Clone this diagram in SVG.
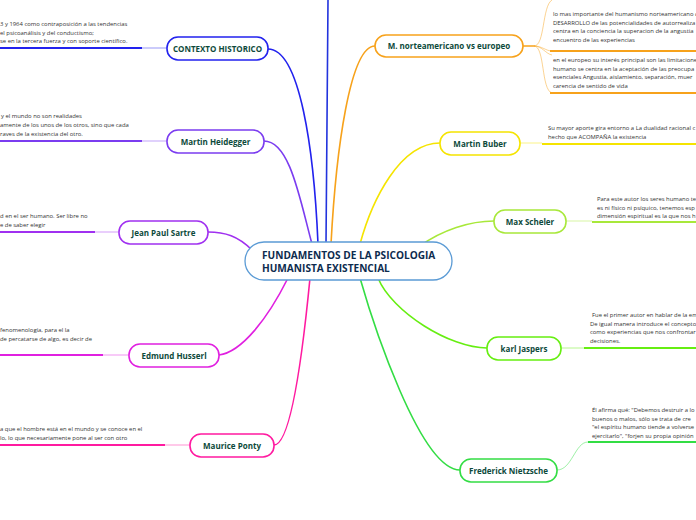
<svg xmlns="http://www.w3.org/2000/svg" width="696" height="520" viewBox="0 0 696 520">
<style>
.node{fill:#fff;stroke-width:1.6}
.nt{font-family:"Open Sans","Liberation Sans",sans-serif;font-weight:bold;font-size:8px;fill:#0d4a3b;text-anchor:middle}
.dt{font-family:"Open Sans","Liberation Sans",sans-serif;font-size:5.9px;fill:#333}
.ct{font-family:"Open Sans","Liberation Sans",sans-serif;font-weight:bold;font-size:10.1px;fill:#0d2b4e}
.c{fill:none;stroke-width:1.6;stroke-linecap:round}
.u{fill:none;stroke-width:2}
.t{fill:none;stroke-width:0.8;opacity:0.6}
</style>
<g id="connectors">
<path class="c" stroke="#2233dd" d="M 326 244 C 326 150 327 60 328 0"/>
<path class="c" stroke="#2222ee" d="M 268 49 C 300 49 314 150 318 244"/>
<path class="c" stroke="#7b3cf0" d="M 264 141 C 290 141 300 200 312 244"/>
<path class="c" stroke="#a030f0" d="M 208 232 C 225 232 238 236 252 250"/>
<path class="c" stroke="#e020e0" d="M 219 355 C 242 352 268 318 288 278"/>
<path class="c" stroke="#ff1aa0" d="M 274 445 C 292 445 304 340 310 278"/>
<path class="c" stroke="#f7a21b" d="M 375 46 C 350 46 336 150 331 244"/>
<path class="c" stroke="#f5e400" d="M 440 143 C 400 143 372 200 360 244"/>
<path class="c" stroke="#a8e83a" d="M 494 221 C 470 221 442 230 420 246"/>
<path class="c" stroke="#66ee11" d="M 487 348 C 450 348 392 312 378 278"/>
<path class="c" stroke="#33dd44" d="M 460 470 C 420 470 372 320 360 278"/>
<path class="u" stroke="#2222ee" d="M 0 48 H 142"/><path class="t" stroke="#2222ee" d="M 142 48 H 167"/>
<path class="u" stroke="#7b3cf0" d="M 0 141 H 142"/><path class="t" stroke="#7b3cf0" d="M 142 141 H 167"/>
<path class="u" stroke="#a030f0" d="M 0 232 H 95"/><path class="t" stroke="#a030f0" d="M 95 232 H 119"/>
<path class="u" stroke="#e020e0" d="M 0 355 H 103"/><path class="t" stroke="#e020e0" d="M 103 355 H 129"/>
<path class="u" stroke="#ff1aa0" d="M 0 445 H 165"/><path class="t" stroke="#ff1aa0" d="M 165 445 H 190"/>
<path class="u" stroke="#f5e400" d="M 542 144 H 696"/><path class="t" stroke="#f5e400" d="M 520 143 H 542"/>
<path class="u" stroke="#a8e83a" d="M 592 222 H 696"/><path class="t" stroke="#a8e83a" d="M 566 221 H 592"/>
<path class="u" stroke="#66ee11" d="M 584 348 H 696"/><path class="t" stroke="#66ee11" d="M 561 348 H 584"/>
<path class="u" stroke="#33dd44" d="M 588 442 H 696"/><path class="t" stroke="#33dd44" d="M 557 470 C 572 470 575 442 588 442"/>
<path class="c" stroke="#f7a21b" d="M 523 46 H 534"/>
<path class="t" stroke="#f7a21b" d="M 534 46 C 545 46 542 6 552 0 M 534 46 C 545 46 541 90 552 93 M 534 46 C 542 46 546 51 552 51 M 534 46 C 542 46 546 54 552 55"/>
<path class="u" stroke="#f7a21b" d="M 550 51 H 696"/>
<path class="u" stroke="#f7a21b" d="M 550 93 H 696"/>
</g>
<g id="center">
<rect x="245" y="242" width="207" height="38" rx="19" fill="#fff" stroke="#5b9bd5" stroke-width="1.3"/>
<text class="ct" x="262" y="259">FUNDAMENTOS DE LA PSICOLOGIA</text>
<text class="ct" x="262" y="272">HUMANISTA EXISTENCIAL</text>
</g>
<g id="contexto">
<rect class="node" stroke="#2222ee" x="167" y="37" width="101" height="23" rx="11"/>
<text class="nt" x="217.5" y="51.5">CONTEXTO HISTORICO</text>
<text class="dt" x="0" y="26">3 y 1964 como contraposición a las tendencias</text>
<text class="dt" x="0" y="34.5">el psicoanálisis y del conductismo;</text>
<text class="dt" x="0" y="43">se en la tercera fuerza y con soporte científico.</text>
</g>
<g id="heidegger">
<rect class="node" stroke="#7b3cf0" x="167" y="130" width="97" height="23" rx="11"/>
<text class="nt" x="215.5" y="144.5">Martin Heidegger</text>
<text class="dt" x="1" y="118">y el mundo no son realidades</text>
<text class="dt" x="0" y="127">amente de los unos de los otros, sino que cada</text>
<text class="dt" x="0" y="135.5">raves de la existencia del otro.</text>
</g>
<g id="sartre">
<rect class="node" stroke="#a030f0" x="119" y="221" width="89" height="23" rx="11"/>
<text class="nt" x="163.5" y="235.5">Jean Paul Sartre</text>
<text class="dt" x="0" y="218">d en el ser humano. Ser libre no</text>
<text class="dt" x="0" y="226.5">e de saber elegir</text>
</g>
<g id="husserl">
<rect class="node" stroke="#e020e0" x="129" y="344" width="90" height="23" rx="11"/>
<text class="nt" x="174" y="358.5">Edmund Husserl</text>
<text class="dt" x="0" y="332">fenomenología, para el la</text>
<text class="dt" x="0" y="341">de percatarse de algo, es decir de</text>
</g>
<g id="ponty">
<rect class="node" stroke="#ff1aa0" x="190" y="434" width="84" height="23" rx="11"/>
<text class="nt" x="232" y="448.5">Maurice Ponty</text>
<text class="dt" x="0" y="431">a que el hombre está en el mundo y se conoce en el</text>
<text class="dt" x="0" y="440">lo, lo que necesariamente pone al ser con otro</text>
</g>
<g id="norteamericano">
<rect class="node" stroke="#f7a21b" x="375" y="35" width="148" height="22" rx="11"/>
<text class="nt" x="449" y="49">M. norteamericano vs europeo</text>
<text class="dt" x="553" y="16">lo mas importante del humanismo norteamericano d</text>
<text class="dt" x="553" y="24.5">DESARROLLO de las potencialidades de autorrealiza</text>
<text class="dt" x="553" y="33">centra en la conciencia la superacion de la angustia</text>
<text class="dt" x="553" y="41.5">encuentro de las experiencias</text>
<text class="dt" x="553" y="62">en el europeo su interés principal son las limitacione</text>
<text class="dt" x="553" y="70.5">humano se centra en la aceptación de las preocupa</text>
<text class="dt" x="553" y="79">esenciales Angustia, aislamiento, separación, muer</text>
<text class="dt" x="553" y="87.5">carencia de sentido de vida</text>
</g>
<g id="buber">
<rect class="node" stroke="#f5e400" x="440" y="132" width="80" height="23" rx="11"/>
<text class="nt" x="480" y="146.5">Martin Buber</text>
<text class="dt" x="548" y="130">Su mayor aporte gira entorno a La dualidad racional c</text>
<text class="dt" x="548" y="139">hecho que ACOMPAÑA la existencia</text>
</g>
<g id="scheler">
<rect class="node" stroke="#a8e83a" x="494" y="210" width="72" height="23" rx="11"/>
<text class="nt" x="530" y="224.5">Max Scheler</text>
<text class="dt" x="597" y="201">Para este autor los seres humano te</text>
<text class="dt" x="597" y="209.5">es ni físico ni psíquico, tenemos esp</text>
<text class="dt" x="597" y="218">dimensión espiritual es la que nos h</text>
</g>
<g id="jaspers">
<rect class="node" stroke="#66ee11" x="487" y="337" width="74" height="23" rx="11"/>
<text class="nt" x="524" y="351.5">karl Jaspers</text>
<text class="dt" x="592" y="317">Fue el primer autor en hablar de la em</text>
<text class="dt" x="590" y="325.5">De igual manera introduce el concepto</text>
<text class="dt" x="590" y="334">como experiencias que nos confrontar</text>
<text class="dt" x="590" y="343">decisiones.</text>
</g>
<g id="nietzsche">
<rect class="node" stroke="#33dd44" x="460" y="459" width="97" height="23" rx="11"/>
<text class="nt" x="508.5" y="473.5">Frederick Nietzsche</text>
<text class="dt" x="592" y="412">Él afirma qué: "Debemos destruir a lo</text>
<text class="dt" x="592" y="420.5">buenos o malos, sólo se trata de cre</text>
<text class="dt" x="592" y="429">"el espíritu humano tiende a volverse</text>
<text class="dt" x="592" y="437.5">ejercitarlo", "forjen su propia opinión</text>
</g>
</svg>
